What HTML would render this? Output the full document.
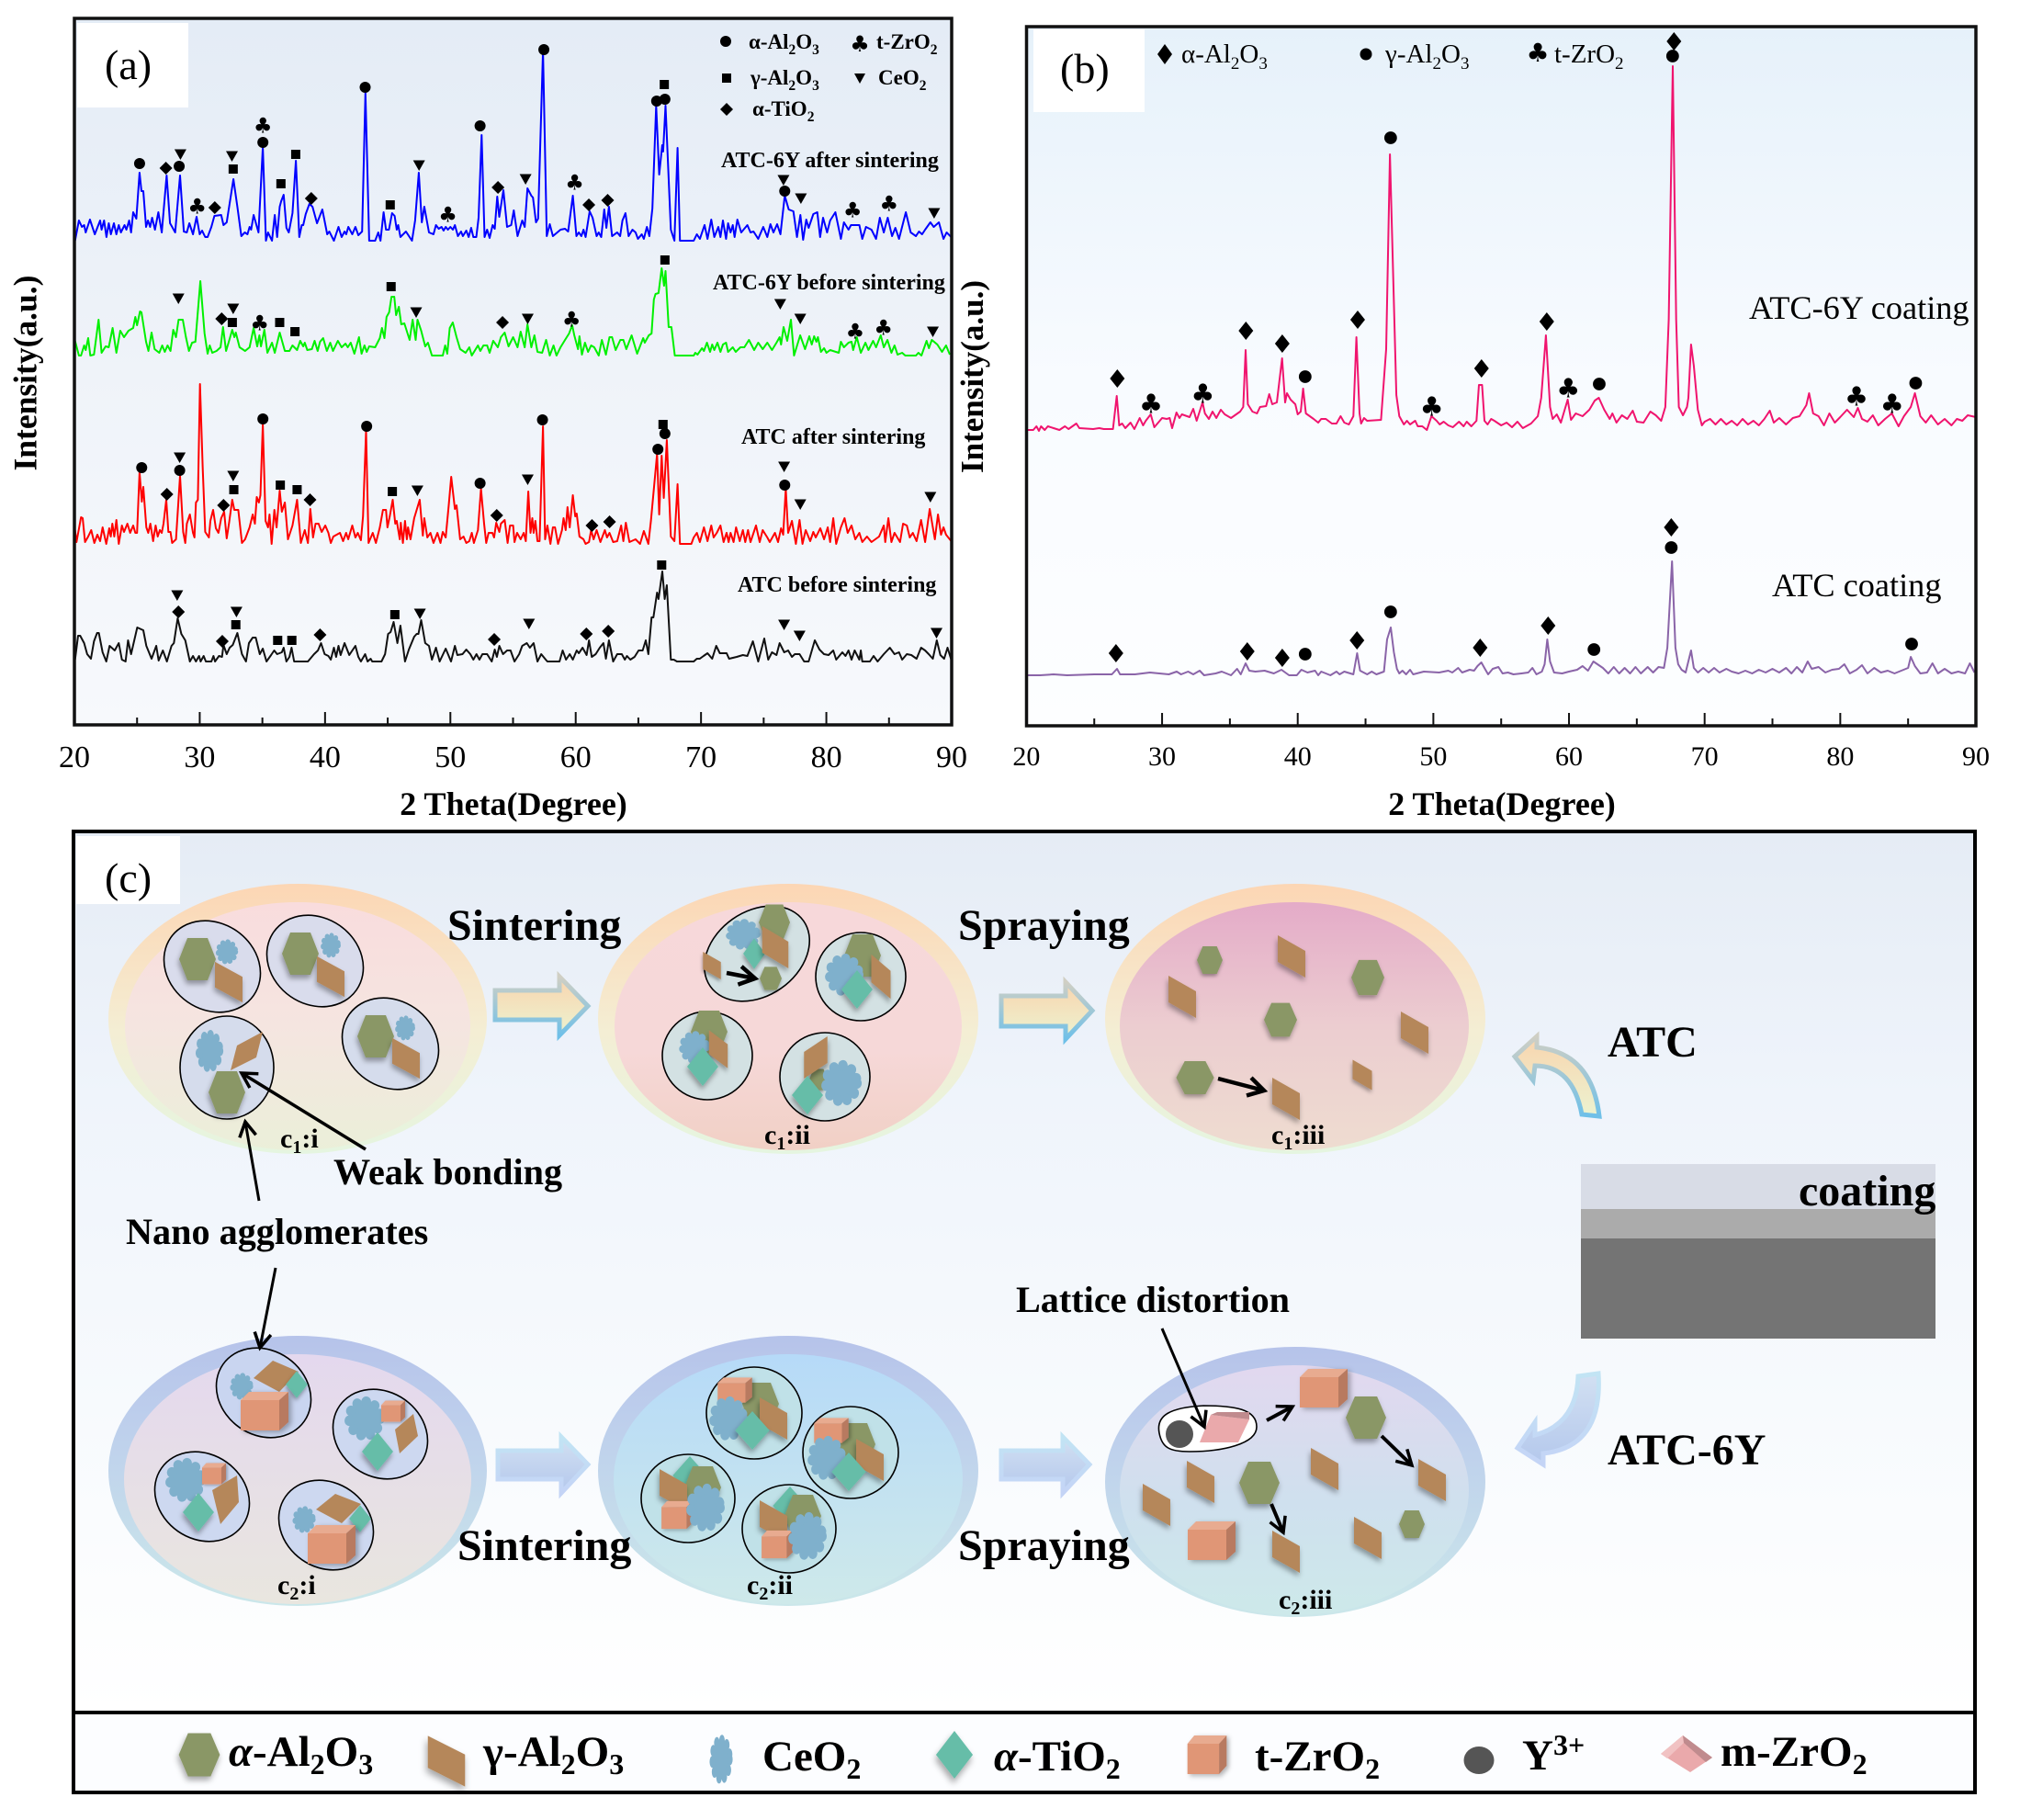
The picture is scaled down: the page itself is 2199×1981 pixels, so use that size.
<!DOCTYPE html>
<html lang="en">
<head>
<meta charset="utf-8">
<title>XRD patterns and microstructure schematic</title>
<style>
html,body{margin:0;padding:0;background:#fff;}
svg{display:block;}
text{font-family:"Liberation Serif","DejaVu Serif",serif;fill:#000;}
.b{font-weight:bold;}
.lab{font-weight:bold;font-size:30px;}
.big{font-weight:bold;font-size:48px;}
.mid{font-weight:bold;font-size:40.2px;}
.leg{font-weight:bold;font-size:47px;}
.lega{font-weight:bold;font-size:23px;}
.slab{font-weight:bold;font-size:24px;}
.legb{font-size:29px;}
.clab{font-size:36.3px;}
.pl{font-size:46px;}
</style>
</head>
<body>
<svg id="figure" xmlns="http://www.w3.org/2000/svg" width="2199" height="1981" viewBox="0 0 2199 1981">
<defs>
<linearGradient id="bgA" x1="0" y1="0" x2="0" y2="1"><stop offset="0" stop-color="#e4ecf6"/><stop offset=".5" stop-color="#eff3f9"/><stop offset="1" stop-color="#f7f9fc"/></linearGradient>
<linearGradient id="bgB" x1="0" y1="0" x2="0" y2="1"><stop offset="0" stop-color="#e6f1fa"/><stop offset=".5" stop-color="#f8fbff"/><stop offset="1" stop-color="#fdfeff"/></linearGradient>
<linearGradient id="bgC" x1="0" y1="0" x2="0" y2="1"><stop offset="0" stop-color="#e5ecf5"/><stop offset=".3" stop-color="#eff4fb"/><stop offset=".65" stop-color="#f7fafd"/><stop offset="1" stop-color="#ffffff"/></linearGradient>
<linearGradient id="o1" x1="0" y1="0" x2="0" y2="1"><stop offset="0" stop-color="#fcd6b4"/><stop offset=".55" stop-color="#f4eed4"/><stop offset="1" stop-color="#e5f5e0"/></linearGradient>
<linearGradient id="o2" x1="0" y1="0" x2="0" y2="1"><stop offset="0" stop-color="#b6c3ea"/><stop offset=".35" stop-color="#bed0ec"/><stop offset="1" stop-color="#cbe7ea"/></linearGradient>
<linearGradient id="i11" x1="0" y1="0" x2="0" y2="1"><stop offset="0" stop-color="#f9dcdd"/><stop offset=".5" stop-color="#f5e5e0"/><stop offset="1" stop-color="#ebefd9"/></linearGradient>
<linearGradient id="i12" x1="0" y1="0" x2="0" y2="1"><stop offset="0" stop-color="#f7d8da"/><stop offset=".6" stop-color="#f6d8d8"/><stop offset="1" stop-color="#f1d0c5"/></linearGradient>
<linearGradient id="i13" x1="0" y1="0" x2="0" y2="1"><stop offset="0" stop-color="#e4abc8"/><stop offset=".5" stop-color="#eccdd0"/><stop offset="1" stop-color="#eedcd0"/></linearGradient>
<linearGradient id="i21" x1="0" y1="0" x2="0" y2="1"><stop offset="0" stop-color="#e4d8ee"/><stop offset="1" stop-color="#e9e6df"/></linearGradient>
<linearGradient id="i22" x1="0" y1="0" x2="0" y2="1"><stop offset="0" stop-color="#b6daf8"/><stop offset="1" stop-color="#cee9ea"/></linearGradient>
<linearGradient id="i23" x1="0" y1="0" x2="0" y2="1"><stop offset="0" stop-color="#e2d8ef"/><stop offset=".55" stop-color="#cfe0ee"/><stop offset="1" stop-color="#cde9ea"/></linearGradient>
<linearGradient id="aF" x1="0" y1="0" x2="0" y2="1"><stop offset="0" stop-color="#f9d4ae"/><stop offset="1" stop-color="#ecf3d0"/></linearGradient>
<linearGradient id="aS" x1="0" y1="0" x2="0" y2="1"><stop offset="0" stop-color="#d0cfc4"/><stop offset="1" stop-color="#6fc0e8"/></linearGradient>
<linearGradient id="bF" x1="0" y1="0" x2="0" y2="1"><stop offset="0" stop-color="#d2e0f2"/><stop offset="1" stop-color="#b4c8ec"/></linearGradient>
<linearGradient id="bS" x1="0" y1="0" x2="0" y2="1"><stop offset="0" stop-color="#c2e4f4"/><stop offset="1" stop-color="#c4d4f6"/></linearGradient>
<filter id="sh" x="-40%" y="-40%" width="180%" height="180%"><feDropShadow dx="-1" dy="4" stdDeviation="3" flood-color="#000" flood-opacity=".35"/></filter>
<filter id="sh2" x="-40%" y="-40%" width="180%" height="180%"><feDropShadow dx="3" dy="2" stdDeviation="3" flood-color="#000" flood-opacity=".3"/></filter>
<g id="hex" filter="url(#sh)"><polygon points="-20,0 -11,-23 11,-23 20,0 11,23 -11,23" fill="#8a9766"/></g>
<g id="para" filter="url(#sh)"><polygon points="-15,-23 15,-6 15,23 -15,6" fill="#b5875a"/></g>
<g id="ti" filter="url(#sh)"><polygon points="0,-21 17,0 0,21 -17,0" fill="#66bda8"/></g>
<g id="ceo"><circle r="16" fill="#7fb0cc" stroke="#7fb0cc" stroke-width="10" stroke-linecap="round" stroke-dasharray="0.1 9.5"/></g>
<g id="cube" filter="url(#sh2)"><rect x="-26" y="-12" width="42" height="33" fill="#e09676"/><polygon points="-26,-12 -17,-21 26,-21 16,-12" fill="#e8ab90"/><polygon points="16,-12 26,-21 26,12 16,21" fill="#b87a60"/></g>
<marker id="ah" markerUnits="userSpaceOnUse" markerWidth="26" markerHeight="26" refX="21" refY="13" orient="auto"><path d="M5,4 L21,13 L5,22" fill="none" stroke="#000" stroke-width="3.5"/></marker>
<marker id="ahb" markerUnits="userSpaceOnUse" markerWidth="26" markerHeight="26" refX="21" refY="13" orient="auto"><path d="M4,3 L21,13 L4,23" fill="none" stroke="#000" stroke-width="4.5"/></marker>
</defs>

<rect width="2199" height="1981" fill="#fff"/>

<!-- PANEL A -->
<g id="panelA">
<rect x="81" y="20" width="955" height="769" fill="url(#bgA)"/>
<rect x="84" y="25" width="121" height="92" fill="#fff"/>
<text class="pl" x="114" y="86">(a)</text>
<g id="gA"></g>
<rect x="81" y="20" width="955" height="769" fill="none" stroke="#111" stroke-width="3.5"/>
<g>
<circle cx="790" cy="45" r="6"/>
<text class="lega" x="815" y="53">α-Al<tspan font-size="15.5" dy="6">2</tspan><tspan dy="-6">O</tspan><tspan font-size="15.5" dy="6">3</tspan></text>
<text x="936" y="56" font-size="24" text-anchor="middle" style="font-family:'DejaVu Sans',sans-serif">♣</text>
<text class="lega" x="954" y="53">t-ZrO<tspan font-size="15.5" dy="6">2</tspan></text>
<rect x="786" y="80" width="10" height="10"/>
<text class="lega" x="817" y="92">γ-Al<tspan font-size="15.5" dy="6">2</tspan><tspan dy="-6">O</tspan><tspan font-size="15.5" dy="6">3</tspan></text>
<polygon points="930,80 942,80 936,91"/>
<text class="lega" x="956" y="92">CeO<tspan font-size="15.5" dy="6">2</tspan></text>
<polygon points="791,112 798,119 791,126 784,119"/>
<text class="lega" x="819" y="126">α-TiO<tspan font-size="15.5" dy="6">2</tspan></text>
</g>
<text class="slab" x="785" y="182">ATC-6Y after sintering</text>
<text class="slab" x="776" y="315">ATC-6Y before sintering</text>
<text class="slab" x="807" y="483">ATC after sintering</text>
<text class="slab" x="803" y="644">ATC before sintering</text>
<text class="b" font-size="36" x="559" y="887" text-anchor="middle">2 Theta(Degree)</text>
<text class="b" font-size="35.5" text-anchor="middle" transform="translate(39.5,406) rotate(-90)">Intensity(a.u.)</text>
</g>

<!-- PANEL B -->
<g id="panelB">
<rect x="1117" y="29" width="1034" height="761" fill="url(#bgB)"/>
<rect x="1125" y="32" width="121" height="90" fill="#fff"/>
<text class="pl" x="1154" y="90">(b)</text>
<g id="gB"></g>
<rect x="1117.5" y="29" width="1033.5" height="761" fill="none" stroke="#111" stroke-width="3.5"/>
<g>
<polygon points="1268,48 1276,59 1268,70 1260,59"/>
<text class="legb" x="1286" y="68">α-Al<tspan font-size="19" dy="7">2</tspan><tspan dy="-7">O</tspan><tspan font-size="19" dy="7">3</tspan></text>
<circle cx="1487" cy="59" r="6.5"/>
<text class="legb" x="1508" y="68">γ-Al<tspan font-size="19" dy="7">2</tspan><tspan dy="-7">O</tspan><tspan font-size="19" dy="7">3</tspan></text>
<text x="1674" y="67" font-size="28" text-anchor="middle" style="font-family:'DejaVu Sans',sans-serif">♣</text>
<text class="legb" x="1692" y="68">t-ZrO<tspan font-size="19" dy="7">2</tspan></text>
</g>
<text class="clab" x="1904" y="347">ATC-6Y coating</text>
<text class="clab" x="1929" y="649">ATC coating</text>
<text class="b" font-size="36" x="1643" y="887" text-anchor="middle" transform="translate(-8,0)">2 Theta(Degree)</text>
<text class="b" font-size="35" text-anchor="middle" transform="translate(1070,410) rotate(-90)">Intensity(a.u.)</text>
</g>

<!-- PANEL C -->
<g id="panelC">
<rect x="80" y="905" width="2070" height="959" fill="url(#bgC)"/>
<rect x="80" y="1864" width="2070" height="87" fill="#fcfdff"/>
<rect x="83" y="910" width="113" height="74" fill="#fff"/>
<text class="pl" x="114" y="971">(c)</text>

<!-- c1:i -->
<g>
<ellipse cx="324" cy="1109" rx="206" ry="147" fill="url(#o1)"/>
<ellipse cx="324" cy="1117" rx="188" ry="135" fill="url(#i11)"/>
<g>
<ellipse cx="231" cy="1052" rx="55" ry="47" transform="rotate(35 231 1052)" fill="#d9dcec" stroke="#000" stroke-width="1.6"/>
<use href="#hex" transform="translate(215,1044)"/><use href="#para" transform="translate(249,1069) scale(1,.96)"/><use href="#ceo" transform="translate(247,1036) scale(.58,.65)"/></g>
<g>
<ellipse cx="343" cy="1046" rx="55" ry="47" transform="rotate(35 343 1046)" fill="#d9dcec" stroke="#000" stroke-width="1.6"/>
<use href="#hex" transform="translate(327,1038)"/><use href="#para" transform="translate(360,1063) scale(1,.96)"/><use href="#ceo" transform="translate(360,1029) scale(.52,.65)"/></g>
<g>
<ellipse cx="425" cy="1136" rx="55" ry="47" transform="rotate(35 425 1136)" fill="#d5dcec" stroke="#000" stroke-width="1.6"/>
<use href="#hex" transform="translate(409,1128)"/><use href="#para" transform="translate(442,1152) scale(1,.96)"/><use href="#ceo" transform="translate(441,1119) scale(.52,.65)"/></g>
<g>
<ellipse cx="247" cy="1162" rx="51" ry="56" fill="#d5dcec" stroke="#000" stroke-width="1.6"/>
<use href="#ceo" transform="translate(228,1144) scale(.72,1.1)"/><polygon points="251,1165 258,1138 286,1123 279,1151" fill="#b5875a"/><use href="#hex" transform="translate(247,1189)"/></g>
<text class="lab" x="305" y="1249">c<tspan font-size="20" dy="6">1</tspan><tspan dy="-6">:i</tspan></text>
</g>

<!-- c1:ii -->
<g>
<ellipse cx="858" cy="1109" rx="207" ry="147" fill="url(#o1)"/>
<ellipse cx="858" cy="1117" rx="189" ry="135" fill="url(#i12)"/>
<g>
<ellipse cx="824" cy="1038" rx="62" ry="46" transform="rotate(-35 824 1038)" fill="#d3e1e3" stroke="#000" stroke-width="1.6"/>
<use href="#hex" transform="translate(843,1004) scale(.85,.85)"/><use href="#ceo" transform="translate(809,1017) scale(.9,.8)"/><use href="#ti" transform="translate(821,1038) scale(.7,.8)"/><use href="#para" transform="translate(844,1031) scale(.95,1)"/><use href="#para" transform="translate(775,1051) scale(.65,.65)"/><use href="#hex" transform="translate(839,1065) scale(.6,.55)"/>
<line x1="791" y1="1059" x2="822" y2="1065" stroke="#000" stroke-width="4.5" marker-end="url(#ahb)"/></g>
<g>
<ellipse cx="937" cy="1063" rx="49" ry="48" fill="#d3e1e3" stroke="#000" stroke-width="1.6"/>
<use href="#hex" transform="translate(939,1040)"/><use href="#ceo" transform="translate(919,1061) scale(1,1.1)"/><use href="#para" transform="translate(959,1063) scale(.7,1.05)"/><use href="#ti" transform="translate(933,1077)"/></g>
<g>
<ellipse cx="770" cy="1149" rx="49" ry="48" fill="#d3e1e3" stroke="#000" stroke-width="1.6"/>
<use href="#hex" transform="translate(772,1123)"/><use href="#ceo" transform="translate(756,1140) scale(.8,.85)"/><use href="#para" transform="translate(782,1142) scale(.68,.9)"/><use href="#ti" transform="translate(765,1161)"/></g>
<g>
<ellipse cx="898" cy="1172" rx="49" ry="48" fill="#d3e1e3" stroke="#000" stroke-width="1.6"/>
<use href="#hex" transform="translate(891,1175) scale(.5,.5)"/><use href="#para" transform="translate(888,1151) scale(-.85,1)"/><use href="#ceo" transform="translate(916,1179) scale(1.05,1.2)"/><use href="#ti" transform="translate(879,1192)"/></g>
<text class="lab" x="832" y="1245">c<tspan font-size="20" dy="6">1</tspan><tspan dy="-6">:ii</tspan></text>
</g>

<!-- c1:iii -->
<g>
<ellipse cx="1410" cy="1109" rx="207" ry="147" fill="url(#o1)"/>
<ellipse cx="1409" cy="1117" rx="190" ry="135" fill="url(#i13)"/>
<use href="#hex" transform="translate(1317,1045) scale(.7,.65)"/>
<use href="#para" transform="translate(1406,1041)"/>
<use href="#hex" transform="translate(1489,1064) scale(.9,.83)"/>
<use href="#para" transform="translate(1287,1085)"/>
<use href="#hex" transform="translate(1394,1110) scale(.9,.8)"/>
<use href="#para" transform="translate(1540,1124)"/>
<use href="#hex" transform="translate(1301,1173) scale(1.03,.78)"/>
<line x1="1326" y1="1174" x2="1376" y2="1187" stroke="#000" stroke-width="4.5" marker-end="url(#ahb)"/>
<use href="#para" transform="translate(1400,1196)"/>
<use href="#para" transform="translate(1483,1170) scale(.7,.72)"/>
<text class="lab" x="1384" y="1245">c<tspan font-size="20" dy="6">1</tspan><tspan dy="-6">:iii</tspan></text>
</g>

<!-- c2:i -->
<g>
<ellipse cx="324" cy="1601" rx="206" ry="147" fill="url(#o2)"/>
<ellipse cx="324" cy="1610" rx="189" ry="136" fill="url(#i21)"/>
<g>
<ellipse cx="287" cy="1516" rx="54" ry="46" transform="rotate(35 287 1516)" fill="#c9d5f0" stroke="#000" stroke-width="1.6"/>
<use href="#ceo" transform="translate(263,1509) scale(.6,.7)"/><polygon points="276,1500 297,1481 325,1493 304,1515" fill="#b5875a"/><use href="#ti" transform="translate(323,1507) scale(.7,.7)"/><use href="#cube" transform="translate(288,1536)"/></g>
<g>
<ellipse cx="414" cy="1561" rx="54" ry="46" transform="rotate(35 414 1561)" fill="#cdd8f0" stroke="#000" stroke-width="1.6"/>
<use href="#ceo" transform="translate(397,1544) scale(1.05,1.15)"/><use href="#cube" transform="translate(428,1536) scale(.5,.55)"/><polygon points="435,1582 430,1556 450,1539 455,1563" fill="#b5875a"/><use href="#ti" transform="translate(411,1580)"/></g>
<g>
<ellipse cx="220" cy="1629" rx="54" ry="46" transform="rotate(35 220 1629)" fill="#cdd8f0" stroke="#000" stroke-width="1.6"/>
<use href="#ceo" transform="translate(202,1611) scale(1.05,1.15)"/><use href="#cube" transform="translate(233,1604) scale(.5,.55)"/><polygon points="240,1659 231,1622 258,1606 260,1635" fill="#b5875a"/><use href="#ti" transform="translate(216,1646)"/></g>
<g>
<ellipse cx="355" cy="1660" rx="54" ry="46" transform="rotate(35 355 1660)" fill="#cdd8f0" stroke="#000" stroke-width="1.6"/>
<use href="#ceo" transform="translate(331,1654) scale(.6,.7)"/><polygon points="344,1643 365,1626 393,1637 372,1658" fill="#b5875a"/><use href="#ti" transform="translate(392,1653) scale(.7,.7)"/><use href="#cube" transform="translate(361,1681)"/></g>
<text class="lab" x="302" y="1735">c<tspan font-size="20" dy="6">2</tspan><tspan dy="-6">:i</tspan></text>
</g>

<!-- c2:ii -->
<g>
<ellipse cx="858" cy="1601" rx="207" ry="147" fill="url(#o2)"/>
<ellipse cx="858" cy="1610" rx="190" ry="136" fill="url(#i22)"/>
<g>
<ellipse cx="821" cy="1538" rx="52" ry="50" fill="#c0e1e8" stroke="#000" stroke-width="1.6"/>
<use href="#hex" transform="translate(828,1528)"/><use href="#cube" transform="translate(800,1513) scale(.72,.65)"/><use href="#ceo" transform="translate(793,1544) scale(1,1.15)"/><use href="#para" transform="translate(842,1544)"/><use href="#ti" transform="translate(819,1557) scale(1.1,1)"/></g>
<g>
<ellipse cx="926" cy="1581" rx="52" ry="50" fill="#c0e1e8" stroke="#000" stroke-width="1.6"/>
<use href="#hex" transform="translate(933,1572)"/><use href="#cube" transform="translate(905,1557) scale(.72,.65)"/><use href="#ceo" transform="translate(900,1587) scale(1,1.15)"/><use href="#para" transform="translate(947,1589)"/><use href="#ti" transform="translate(924,1602) scale(1.1,1)"/></g>
<g>
<ellipse cx="749" cy="1631" rx="51" ry="48" fill="#c0e1e8" stroke="#000" stroke-width="1.6"/>
<use href="#ti" transform="translate(751,1606) scale(1.1,1)"/><use href="#hex" transform="translate(765,1619)"/><use href="#para" transform="translate(733,1622)"/><use href="#cube" transform="translate(737,1649) scale(.65,.72)"/><use href="#ceo" transform="translate(768,1641) scale(1,1.25)"/></g>
<g>
<ellipse cx="859" cy="1664" rx="51" ry="48" fill="#c0e1e8" stroke="#000" stroke-width="1.6"/>
<use href="#ti" transform="translate(860,1639) scale(1.1,1)"/><use href="#hex" transform="translate(874,1650)"/><use href="#para" transform="translate(842,1656)"/><use href="#cube" transform="translate(846,1681) scale(.65,.72)"/><use href="#ceo" transform="translate(879,1672) scale(1,1.25)"/></g>
<text class="lab" x="813" y="1735">c<tspan font-size="20" dy="6">2</tspan><tspan dy="-6">:ii</tspan></text>
</g>

<!-- c2:iii -->
<g>
<ellipse cx="1410" cy="1613" rx="207" ry="147" fill="url(#o2)"/>
<ellipse cx="1409" cy="1622" rx="190" ry="136" fill="url(#i23)"/>
<path d="M1262,1560 C1258,1540 1275,1532 1310,1530 C1345,1530 1368,1534 1368,1553 C1368,1572 1330,1580 1295,1580 C1272,1580 1265,1575 1262,1560 Z" fill="#fff" stroke="#000" stroke-width="1.6"/>
<ellipse cx="1284" cy="1561" rx="15" ry="15" fill="#555"/>
<g><polygon points="1306,1570 1318,1540 1360,1545 1348,1570" fill="#eaa9ab"/><polygon points="1318,1540 1325,1537 1360,1537 1360,1545" fill="#c08b8e"/></g>
<line x1="1265" y1="1446" x2="1311" y2="1553" stroke="#000" stroke-width="3" marker-end="url(#ah)"/>
<line x1="1379" y1="1546" x2="1407" y2="1531" stroke="#000" stroke-width="4" marker-end="url(#ah)"/>
<use href="#cube" transform="translate(1441,1511)"/>
<use href="#hex" transform="translate(1487,1543) scale(1.1,1)"/>
<line x1="1504" y1="1563" x2="1537" y2="1595" stroke="#000" stroke-width="4" marker-end="url(#ah)"/>
<use href="#para" transform="translate(1559,1611)"/>
<use href="#para" transform="translate(1442,1599)"/>
<use href="#para" transform="translate(1307,1613)"/>
<use href="#hex" transform="translate(1371,1614) scale(1.1,1)"/>
<use href="#para" transform="translate(1259,1638)"/>
<line x1="1384" y1="1637" x2="1397" y2="1668" stroke="#000" stroke-width="4" marker-end="url(#ah)"/>
<use href="#hex" transform="translate(1537,1659) scale(.7,.65)"/>
<use href="#para" transform="translate(1489,1674)"/>
<use href="#cube" transform="translate(1319,1677)"/>
<use href="#para" transform="translate(1400,1689)"/>
<text class="lab" x="1392" y="1751">c<tspan font-size="20" dy="6">2</tspan><tspan dy="-6">:iii</tspan></text>
</g>

<!-- process arrows -->
<path d="M539,1078 H609 V1063 L640,1095 L609,1127 V1110 H539 Z" fill="url(#aF)" stroke="url(#aS)" stroke-width="5"/>
<path d="M1090,1084 H1160 V1069 L1189,1100 L1160,1131 V1117 H1090 Z" fill="url(#aF)" stroke="url(#aS)" stroke-width="5"/>
<path d="M542,1579 H611 V1564 L640,1594 L611,1625 V1610 H542 Z" fill="url(#bF)" stroke="url(#bS)" stroke-width="5"/>
<path d="M1090,1579 H1157 V1564 L1186,1594 L1157,1625 V1610 H1090 Z" fill="url(#bF)" stroke="url(#bS)" stroke-width="5"/>
<path d="M1649,1150 L1673,1128 L1673,1140 Q1733,1146 1741,1215 L1722,1213 Q1712,1160 1671,1160 L1669,1176 Z" fill="url(#aF)" stroke="url(#aS)" stroke-width="5"/>
<path d="M1652,1576 L1671,1548 L1671,1562 Q1716,1550 1718,1498 L1740,1495 Q1745,1575 1680,1582 L1680,1594 Z" fill="url(#bF)" stroke="url(#bS)" stroke-width="5"/>

<!-- annotation arrows -->
<line x1="398" y1="1251" x2="263" y2="1168" stroke="#000" stroke-width="3.5" marker-end="url(#ah)"/>
<line x1="282" y1="1307" x2="267" y2="1221" stroke="#000" stroke-width="3" marker-end="url(#ah)"/>
<line x1="300" y1="1380" x2="283" y2="1467" stroke="#000" stroke-width="3" marker-end="url(#ah)"/>

<!-- coating block -->
<rect x="1721" y="1267" width="386" height="49" fill="#d8dce6"/>
<rect x="1721" y="1316" width="386" height="32" fill="#ababab"/>
<rect x="1721" y="1348" width="386" height="109" fill="#747474"/>

<text class="big" x="487" y="1023">Sintering</text>
<text class="big" x="1043" y="1023">Spraying</text>
<text class="big" x="498" y="1698">Sintering</text>
<text class="big" x="1043" y="1698">Spraying</text>
<text class="mid" x="363" y="1289">Weak bonding</text>
<text class="mid" x="137" y="1354">Nano agglomerates</text>
<text class="mid" x="1106" y="1428">Lattice distortion</text>
<text class="big" x="1750" y="1150">ATC</text>
<text class="big" x="1750" y="1594">ATC-6Y</text>
<text class="big" x="1958" y="1312">coating</text>

<rect x="80" y="905" width="2070" height="1046" fill="none" stroke="#000" stroke-width="4"/>
<line x1="80" y1="1864" x2="2150" y2="1864" stroke="#000" stroke-width="4"/>

<!-- bottom legend -->
<g>
<use href="#hex" transform="translate(217,1910) scale(1.12,1.02)"/>
<text class="leg" x="249" y="1922"><tspan font-style="italic">α</tspan>-Al<tspan font-size="32" dy="9">2</tspan><tspan dy="-9">O</tspan><tspan font-size="32" dy="9">3</tspan></text>
<use href="#para" transform="translate(486,1917) scale(1.35,1.2)"/>
<text class="leg" x="526" y="1922">γ-Al<tspan font-size="32" dy="9">2</tspan><tspan dy="-9">O</tspan><tspan font-size="32" dy="9">3</tspan></text>
<use href="#ceo" transform="translate(785,1915) scale(.6,1.28)"/>
<text class="leg" x="830" y="1927">CeO<tspan font-size="32" dy="9">2</tspan></text>
<use href="#ti" transform="translate(1039,1910) scale(1.18,1.24)"/>
<text class="leg" x="1082" y="1927"><tspan font-style="italic">α</tspan>-TiO<tspan font-size="32" dy="9">2</tspan></text>
<use href="#cube" transform="translate(1314,1910) scale(.82,1)"/>
<text class="leg" x="1366" y="1927">t-ZrO<tspan font-size="32" dy="9">2</tspan></text>
<ellipse cx="1610" cy="1916" rx="16.5" ry="15" fill="#555"/>
<text class="leg" x="1657" y="1926">Y<tspan font-size="32" dy="-16">3+</tspan></text>
<g><polygon points="1808,1909 1832,1889 1864,1913 1840,1929" fill="#eaa9ab"/><polygon points="1808,1909 1832,1889 1833,1897 1815,1914" fill="#f1c2c3"/><polygon points="1832,1889 1864,1913 1857,1918 1833,1897" fill="#c08b8e"/></g>
<text class="leg" x="1873" y="1922">m-ZrO<tspan font-size="32" dy="9">2</tspan></text>
</g>
</g>

<script>
/* ===== values: [2-theta, intensity above the pattern's baseline] ===== */
const xTickLabels = [20,30,40,50,60,70,80,90];
const xMinorTicks = [25,35,45,55,65,75,85];

const atc6yAfter = [[20.05,0],[20.36,22],[20.6,15],[20.78,17],[20.9,9],[21.24,23],[21.63,7],[22.05,22],[22.17,12],[22.37,22],[22.56,4],[22.74,19],[22.91,7],[23.15,19],[23.35,7],[23.54,17],[23.71,9],[24,17],[24.15,12],[24.37,22],[24.52,9],[24.69,31],[24.94,24],[25.2,74],[25.35,54],[25.5,54],[25.72,15],[25.87,22],[26.04,15],[26.2,25],[26.43,12],[26.7,31],[26.97,9],[27.36,71],[27.63,19],[27.8,15],[28.04,9],[28.43,71],[28.73,10],[28.97,9],[29.17,19],[29.46,7],[29.75,26],[30,7],[30.19,11],[30.44,4],[30.63,4],[30.93,15],[31.17,27],[31.71,28],[31.9,17],[32.15,20],[32.69,67],[33,37],[33.32,5],[33.6,9],[33.81,7],[33.98,15],[34.1,12],[34.3,28],[34.69,9],[35.03,102],[35.28,0],[35.45,9],[35.77,0],[35.99,28],[36.18,4],[36.38,37],[36.5,43],[36.7,50],[36.92,14],[37.11,9],[37.4,30],[37.67,87],[37.94,4],[38.14,17],[38.26,17],[38.46,29],[38.75,40],[39,37],[39.36,19],[39.78,34],[40.17,7],[40.34,10],[40.71,0],[41.07,15],[41.32,4],[41.56,10],[41.69,7],[41.86,15],[42.17,7],[42.42,15],[42.66,6],[42.96,10],[43.22,161],[43.52,0],[44,0],[44.25,9],[44.42,0],[44.67,31],[44.86,12],[45.1,12],[45.35,30],[45.55,27],[45.72,12],[45.84,17],[46.01,4],[46.45,10],[46.94,0],[47.19,22],[47.48,74],[47.72,20],[47.92,37],[48.29,9],[48.65,7],[48.85,17],[49.07,13],[49.3,15],[49.46,11],[49.63,15],[49.8,12],[50,15],[50.2,12],[50.36,17],[50.6,5],[50.85,10],[51,5],[51.27,11],[51.46,4],[51.66,14],[51.83,4],[52.07,4],[52.25,25],[52.49,115],[52.73,4],[52.93,12],[53.13,3],[53.37,17],[53.54,13],[53.74,48],[53.9,26],[54.23,55],[54.52,15],[54.85,17],[55.06,33],[55.36,5],[55.73,22],[55.93,15],[56.15,57],[56.46,49],[56.59,47],[56.83,20],[57,24],[57.39,207],[57.69,5],[57.93,18],[58.18,5],[58.79,12],[59.15,13],[59.4,10],[59.77,49],[60.06,5],[60.25,9],[60.45,5],[60.62,12],[60.79,4],[61.11,32],[61.35,25],[61.67,5],[61.84,9],[62.04,4],[62.28,34],[62.45,14],[62.65,37],[62.9,5],[63.31,9],[63.55,5],[63.73,22],[63.97,30],[64.22,5],[64.53,12],[64.78,9],[64.97,2],[65.27,7],[65.44,2],[65.68,15],[65.88,5],[66.12,35],[66.42,147],[66.66,72],[66.9,104],[66.98,97],[67.17,147],[67.59,12],[67.88,0],[68.13,101],[68.32,0],[69.42,0],[69.67,7],[69.91,2],[70.28,17],[70.52,2],[70.82,23],[71.06,4],[71.38,15],[71.55,4],[71.75,22],[72,2],[72.16,19],[72.36,9],[72.53,17],[72.68,4],[72.9,23],[73.21,9],[73.7,17],[73.95,9],[74.19,10],[74.56,2],[74.97,15],[75.29,4],[75.54,18],[75.78,9],[76.07,18],[76.34,7],[76.68,49],[77,34],[77.37,32],[77.66,4],[77.93,28],[78.15,1],[78.4,23],[78.59,14],[78.96,29],[79.28,31],[79.5,4],[79.74,25],[80.06,9],[80.3,22],[80.72,31],[81.16,2],[81.4,20],[81.77,12],[81.97,17],[82.63,17],[82.87,2],[83.16,15],[83.6,12],[83.97,2],[84.27,25],[84.58,9],[84.9,25],[85.24,5],[85.51,14],[85.8,2],[86.34,31],[86.73,9],[87.15,5],[87.39,10],[87.64,7],[87.88,12],[88.3,20],[88.57,15],[88.98,20],[89.35,2],[89.6,9],[89.96,4]];

const atc6yBefore = [[20.05,16],[20.36,0],[20.53,0],[20.78,11],[20.9,6],[21.1,19],[21.27,0],[21.56,1],[21.93,39],[22.17,3],[22.49,10],[22.74,9],[23.05,30],[23.35,3],[23.66,27],[23.96,20],[24.32,27],[24.69,30],[24.86,42],[25,33],[25.23,48],[25.35,47],[25.72,15],[25.91,5],[26.16,25],[26.4,7],[26.77,3],[27.01,11],[27.21,4],[27.43,11],[27.67,5],[27.89,28],[28.11,20],[28.31,39],[28.65,39],[28.9,20],[29.14,5],[29.39,14],[29.65,15],[30.05,81],[30.39,24],[30.63,2],[30.8,11],[31,3],[31.34,5],[31.66,9],[31.86,31],[32.1,5],[32.32,15],[32.59,28],[32.76,20],[32.88,25],[33.18,9],[33.62,5],[33.98,9],[34.3,30],[34.59,10],[34.76,22],[34.89,10],[35.16,28],[35.4,3],[35.77,14],[35.99,3],[36.38,25],[36.79,5],[37.16,5],[37.4,11],[37.77,6],[38.02,16],[38.26,10],[38.38,14],[38.58,6],[38.95,7],[39.17,16],[39.41,5],[39.6,15],[39.85,19],[40.14,5],[40.41,14],[40.63,5],[41.02,16],[41.32,9],[41.63,13],[41.81,9],[42.05,14],[42.34,2],[42.71,20],[42.91,2],[43.15,11],[43.32,4],[43.52,10],[44,9],[44.37,19],[44.54,30],[44.74,19],[44.91,42],[45.11,47],[45.3,64],[45.52,64],[45.67,44],[45.89,53],[46.08,34],[46.33,35],[46.75,17],[46.99,39],[47.23,17],[47.38,39],[47.67,27],[47.99,10],[48.21,14],[48.53,0],[49.39,0],[49.58,11],[49.75,2],[49.95,30],[50.19,36],[50.49,20],[50.78,7],[51.22,3],[51.51,9],[51.71,0],[52.2,11],[52.39,5],[52.64,11],[52.93,11],[53.13,3],[53.42,16],[53.79,9],[54.03,20],[54.33,25],[54.64,10],[55.01,20],[55.36,9],[55.61,26],[55.93,9],[56.15,34],[56.46,9],[56.71,22],[56.95,4],[57.32,3],[57.64,17],[57.93,0],[58.23,11],[58.47,0],[58.79,9],[59.15,17],[59.47,24],[59.72,33],[59.89,22],[60.18,7],[60.3,21],[60.5,1],[60.74,14],[60.99,4],[61.23,11],[61.48,9],[61.84,0],[62.09,17],[62.41,1],[62.7,20],[62.9,20],[63.19,6],[63.56,17],[63.8,17],[64.04,7],[64.46,22],[64.9,2],[65.39,19],[65.51,14],[65.83,22],[66.05,24],[66.24,61],[66.37,67],[66.61,68],[66.86,95],[67.05,76],[67.17,92],[67.42,31],[67.64,31],[67.91,0],[69.42,0],[69.54,3],[69.72,1],[70.08,8],[70.23,5],[70.47,14],[70.72,4],[70.89,12],[71.06,6],[71.31,14],[71.55,4],[71.75,12],[72,14],[72.16,4],[72.53,9],[72.77,4],[73.14,9],[73.46,9],[73.82,17],[74.24,6],[74.56,14],[74.92,7],[75.29,14],[75.66,6],[76.02,14],[76.27,20],[76.39,12],[76.59,31],[76.88,16],[77.17,39],[77.42,0],[77.91,22],[78.3,7],[78.64,21],[78.84,12],[79.03,21],[79.2,15],[79.33,20],[79.57,4],[79.82,8],[80.01,3],[80.3,6],[80.99,3],[81.16,15],[81.4,9],[81.77,14],[82.01,15],[82.14,6],[82.43,20],[82.75,3],[83.12,14],[83.36,6],[83.73,16],[83.97,9],[84.34,22],[84.58,9],[84.88,17],[85.19,3],[85.44,11],[85.68,1],[86.05,3],[86.3,0],[87.15,0],[87.35,3],[87.59,0],[88,16],[88.18,8],[88.42,17],[88.86,12],[89.23,4],[89.55,11],[89.85,1]];

const atcAfter = [[20.05,15],[20.17,2],[20.53,29],[20.66,28],[20.85,2],[21.1,8],[21.34,15],[21.59,1],[21.83,10],[22.05,3],[22.25,18],[22.54,0],[22.78,17],[22.9,8],[23.03,22],[23.18,8],[23.35,26],[23.54,0],[23.79,20],[23.96,13],[24.23,22],[24.45,12],[24.69,20],[24.86,12],[25,12],[25.2,78],[25.38,46],[25.5,62],[25.74,18],[25.89,12],[26.06,22],[26.28,3],[26.48,20],[26.65,8],[26.82,15],[26.97,12],[27.11,22],[27.33,48],[27.5,13],[27.67,13],[27.8,1],[28.11,5],[28.43,74],[28.68,13],[28.85,1],[28.97,22],[29.21,32],[29.46,12],[29.58,7],[29.7,45],[29.85,48],[30.02,174],[30.24,82],[30.44,13],[30.73,7],[30.85,25],[31.07,37],[31.29,17],[31.49,12],[31.71,28],[31.95,35],[32.15,6],[32.34,23],[32.59,48],[32.76,37],[33.08,37],[33.37,1],[33.62,5],[33.98,18],[34.23,32],[34.4,22],[34.55,51],[34.72,45],[34.84,53],[35.03,130],[35.25,25],[35.45,18],[35.57,32],[35.74,0],[35.96,37],[36.13,18],[36.38,58],[36.55,35],[36.79,45],[37.04,5],[37.4,20],[37.77,48],[38.07,1],[38.38,15],[38.63,1],[38.82,38],[39.04,7],[39.24,22],[39.48,22],[39.73,13],[40.02,20],[40.27,12],[40.46,1],[40.66,8],[41.19,12],[41.44,3],[41.68,12],[41.85,5],[42.17,20],[42.42,7],[42.61,12],[42.86,4],[43.03,30],[43.27,123],[43.47,1],[43.81,12],[44.06,1],[44.37,18],[44.62,37],[44.86,37],[44.98,18],[45.16,30],[45.4,48],[45.6,22],[45.72,25],[45.96,5],[46.04,23],[46.21,1],[46.38,25],[46.53,5],[46.62,18],[46.82,5],[47.11,28],[47.31,37],[47.55,48],[47.8,9],[47.92,28],[48.16,7],[48.41,12],[48.65,1],[48.97,12],[49.21,1],[49.39,13],[49.63,7],[49.87,42],[50.07,73],[50.36,38],[50.49,42],[50.78,5],[51.05,8],[51.27,1],[51.51,3],[51.71,12],[51.88,1],[52.2,15],[52.44,60],[52.69,22],[52.86,1],[53.05,12],[53.35,12],[53.49,7],[53.66,23],[53.91,13],[54.03,22],[54.33,26],[54.57,1],[54.76,20],[55.01,20],[55.12,2],[55.32,12],[55.61,5],[55.85,12],[56.02,3],[56.22,57],[56.39,12],[56.54,28],[56.64,12],[56.78,25],[56.95,3],[57.12,3],[57.39,128],[57.56,5],[57.74,20],[57.98,0],[58.18,18],[58.35,18],[58.59,0],[58.91,15],[59.03,28],[59.2,15],[59.35,40],[59.52,18],[59.77,53],[59.96,30],[60.08,33],[60.3,8],[60.62,5],[60.79,0],[61.06,2],[61.23,15],[61.43,5],[61.67,15],[61.97,2],[62.33,15],[62.5,7],[62.7,12],[62.99,2],[63.31,3],[63.63,20],[63.8,3],[64,23],[64.29,2],[64.78,5],[65.14,0],[65.44,14],[65.8,0],[66,25],[66.17,50],[66.49,98],[66.66,32],[66.86,96],[67.03,50],[67.27,113],[67.59,8],[67.88,3],[68.13,65],[68.32,0],[69.23,0],[69.42,7],[69.67,12],[69.91,2],[70.23,18],[70.52,3],[70.82,20],[71.01,7],[71.26,12],[71.55,20],[71.8,2],[72.04,12],[72.2,2],[72.36,12],[72.6,2],[72.8,18],[73.09,3],[73.34,15],[73.53,2],[73.75,15],[73.95,2],[74.39,20],[74.68,2],[74.92,15],[75.29,7],[75.49,2],[75.9,12],[76.15,2],[76.39,17],[76.56,10],[76.76,60],[76.95,12],[77.25,25],[77.57,0],[77.86,26],[78.1,0],[78.35,15],[78.71,3],[78.96,13],[79.15,7],[79.52,17],[79.82,5],[80.11,18],[80.3,2],[80.55,28],[80.79,0],[81.16,18],[81.45,28],[81.7,12],[82.01,20],[82.31,5],[82.63,12],[82.87,2],[83.24,8],[83.6,2],[84.21,8],[84.58,20],[84.7,2],[84.95,28],[85.19,2],[85.44,12],[85.88,2],[86.12,22],[86.42,20],[86.66,7],[86.9,12],[87.2,3],[87.56,26],[87.88,2],[88.25,38],[88.66,5],[88.91,32],[89.15,10],[89.35,18],[89.55,10],[89.96,3]];

const atcBefore = [[20.05,2],[20.29,28],[20.46,28],[20.78,20],[21.02,8],[21.32,3],[21.56,22],[21.81,31],[21.95,31],[22.25,10],[22.54,0],[22.81,17],[23.22,12],[23.54,20],[23.79,2],[24.08,0],[24.28,23],[24.52,8],[25.01,37],[25.5,34],[25.74,17],[26.16,3],[26.53,17],[26.72,1],[27.06,12],[27.38,0],[27.75,17],[27.94,20],[28.24,47],[28.53,30],[28.85,23],[29.21,0],[29.46,6],[29.7,0],[29.95,6],[30.07,0],[30.31,6],[30.49,0],[30.93,0],[31.1,6],[31.22,0],[31.54,6],[31.78,5],[31.9,18],[32.15,8],[32.39,15],[32.64,18],[33,31],[33.37,8],[33.69,0],[33.93,20],[34.23,26],[34.47,26],[34.79,8],[35.03,14],[35.33,0],[35.69,7],[35.94,12],[36.18,8],[36.55,10],[36.7,15],[36.92,0],[37.16,5],[37.33,15],[37.53,0],[38.63,0],[39.12,8],[39.43,12],[39.68,20],[39.97,8],[40.27,6],[40.46,2],[40.71,15],[40.88,5],[41.07,17],[41.24,7],[41.56,20],[41.93,7],[42.42,17],[42.66,5],[42.86,0],[43.2,8],[43.4,0],[43.64,3],[43.76,0],[44.5,0],[44.79,8],[45.03,30],[45.23,32],[45.47,43],[45.77,20],[46.01,39],[46.38,0],[46.69,13],[47.11,27],[47.31,30],[47.45,30],[47.67,45],[47.99,20],[48.29,17],[48.53,2],[48.85,15],[49.14,0],[49.63,14],[50.05,0],[50.36,17],[50.56,7],[50.97,8],[51.27,13],[51.59,8],[51.83,2],[52.08,8],[52.32,2],[52.56,8],[52.93,8],[53.3,0],[53.54,13],[53.71,5],[53.91,17],[54.2,8],[54.52,12],[54.8,12],[55.12,0],[55.49,8],[55.73,17],[56.1,20],[56.34,15],[56.64,20],[56.95,0],[57.25,8],[57.61,2],[57.74,0],[58.71,0],[58.96,12],[59.23,2],[59.52,8],[59.77,2],[60.08,12],[60.25,9],[60.55,15],[60.87,7],[61.06,23],[61.28,5],[61.6,8],[61.92,15],[62.21,20],[62.41,3],[62.65,23],[62.99,0],[63.31,8],[63.68,8],[63.92,2],[64.09,6],[64.36,2],[64.7,5],[65.02,12],[65.34,12],[65.59,23],[65.8,8],[66.05,48],[66.2,48],[66.49,75],[66.61,68],[66.91,98],[67.1,68],[67.27,83],[67.59,2],[67.83,2],[68.08,0],[69.42,0],[69.67,3],[69.9,3],[70.2,6],[70.52,9],[70.89,3],[71.21,17],[71.5,9],[72.04,9],[72.24,3],[72.85,5],[73.34,7],[73.7,6],[74.14,22],[74.56,0],[75.05,25],[75.36,2],[75.66,10],[76.02,7],[76.27,20],[76.64,10],[76.95,12],[77.25,5],[77.49,8],[77.86,8],[78.23,0],[78.59,0],[79.08,23],[79.45,13],[79.81,8],[80.18,7],[80.55,12],[80.79,2],[81.28,10],[81.53,6],[81.77,12],[82.01,2],[82.26,12],[82.63,2],[82.75,12],[82.87,0],[83.48,0],[83.77,6],[84.09,0],[84.58,8],[85.07,15],[85.44,8],[85.8,10],[86.05,2],[86.42,8],[86.78,7],[87.2,3],[87.56,15],[87.88,12],[88.17,8],[88.5,3],[88.81,23],[89.1,7],[89.4,3],[89.67,15],[89.96,2]];

const atc6yCoating = [[20.06,0],[20.5,0],[20.74,4],[20.92,-1],[21.08,4],[21.35,0],[21.58,4],[22,2],[22.43,0],[22.84,4],[23.1,1],[23.68,7],[23.9,2],[24.92,1],[25.37,2],[25.7,1],[26.38,1],[26.66,37],[26.84,5],[27.06,7],[27.29,2],[27.67,8],[27.96,1],[28.35,13],[28.6,5],[28.8,10],[29.16,17],[29.43,3],[29.66,7],[30,13],[30.34,12],[30.56,13],[30.74,2],[31.06,19],[31.28,13],[31.46,17],[32.03,14],[32.3,23],[32.55,10],[32.98,30],[33.16,18],[33.45,12],[33.72,20],[34,13],[34.33,22],[34.62,17],[35.08,13],[35.75,20],[35.98,25],[36.16,87],[36.32,28],[36.66,20],[37,18],[37.22,25],[37.67,26],[37.9,39],[38.12,28],[38.46,30],[38.85,78],[39.07,30],[39.21,40],[39.48,33],[39.82,28],[40,17],[40.22,20],[40.4,45],[40.6,18],[41.17,12],[41.51,8],[41.73,12],[42.07,12],[42.52,7],[42.86,7],[43.16,15],[43.43,8],[43.77,6],[44.1,15],[44.33,101],[44.56,18],[44.67,7],[44.89,13],[45.12,10],[46.14,11],[46.52,88],[46.8,300],[47.27,38],[47.49,15],[47.83,6],[48.05,10],[48.28,6],[48.66,10],[48.85,4],[49.18,4],[49.52,0],[49.86,15],[50.24,10],[50.47,6],[50.76,9],[51.1,5],[51.44,3],[51.89,9],[52.23,4],[52.46,9],[52.8,4],[53.18,10],[53.36,49],[53.59,49],[53.77,10],[54,6],[54.26,12],[54.5,10],[55,5],[55.4,8],[55.8,3],[56.2,9],[56.6,2],[57.2,7],[57.7,15],[57.95,35],[58.3,103],[58.6,25],[58.8,12],[59.1,17],[59.4,8],[59.9,33],[60.15,11],[60.5,18],[61,15],[61.5,22],[61.9,32],[62.2,35],[62.6,22],[63,12],[63.2,18],[63.5,8],[63.9,16],[64.3,12],[64.7,21],[65,9],[65.5,8],[66,20],[66.4,16],[66.8,10],[67.1,25],[67.35,120],[67.65,396],[67.9,120],[68.1,25],[68.4,16],[68.7,25],[68.8,35],[69,93],[69.2,70],[69.5,22],[69.8,5],[70,9],[70.4,12],[70.8,6],[71.2,12],[71.6,6],[72,10],[72.4,5],[72.8,12],[73.2,6],[73.6,10],[74,5],[74.4,12],[74.8,21],[75.1,8],[75.5,13],[76,6],[76.5,13],[77,15],[77.5,27],[77.7,40],[78,18],[78.4,15],[78.8,5],[79.2,18],[79.6,8],[80,14],[80.5,22],[81,14],[81.3,24],[81.6,12],[82,9],[82.4,16],[82.8,5],[83.3,12],[83.8,18],[84.3,4],[84.7,15],[85.2,25],[85.5,40],[85.9,15],[86.3,8],[86.7,16],[87.2,6],[87.7,12],[88.2,5],[88.6,12],[89,10],[89.4,16],[90,14]];

const atcCoating = [[20.06,0],[21,0],[22,1],[23,0],[25,1],[26.3,1],[26.68,7],[26.9,1],[28,1],[29.1,3],[30.5,1],[31.08,4],[31.4,1],[31.92,4],[32.3,1],[32.77,5],[33.1,0],[33.95,2],[34.4,4],[35.08,0],[35.53,7],[35.8,1],[36.16,13],[36.43,5],[36.88,4],[37.56,5],[38.24,2],[38.8,6],[39.36,0],[39.93,0],[40.27,6],[40.72,3],[41.28,5],[41.51,0],[41.73,4],[42.41,0],[42.86,4],[43.09,1],[43.43,4],[44.1,1],[44.38,24],[44.6,5],[45.12,1],[45.46,4],[45.8,1],[46.36,4],[46.59,39],[46.86,52],[47.09,25],[47.31,7],[47.49,2],[47.72,5],[47.99,1],[48.28,6],[48.51,1],[49.3,4],[50.43,3],[51.1,5],[51.4,3],[51.83,8],[52.12,3],[52.68,6],[53,5],[53.25,10],[53.54,14],[53.8,7],[54.04,1],[54.38,7],[54.8,9],[55.1,2],[55.5,3],[55.9,1],[56.5,2],[57,3],[57.3,8],[57.6,1],[58,4],[58.2,12],[58.4,39],[58.6,15],[58.9,3],[59.5,2],[60,4],[60.6,6],[61,10],[61.4,5],[61.8,15],[62.1,12],[62.5,8],[62.9,2],[63.3,9],[63.7,2],[64.1,8],[64.5,2],[64.9,9],[65.3,2],[65.8,9],[66.2,3],[66.6,9],[67,8],[67.25,30],[67.6,124],[67.85,30],[68.05,12],[68.3,6],[68.6,3],[69,27],[69.2,8],[69.5,3],[69.9,8],[70.3,3],[70.7,8],[71.1,3],[71.6,7],[72,4],[72.5,2],[73,5],[73.5,2],[74,6],[74.5,3],[75,7],[75.5,3],[76,8],[76.4,2],[76.8,9],[77.2,3],[77.6,15],[77.9,7],[78.4,9],[78.9,3],[79.4,6],[79.9,7],[80.3,12],[80.7,2],[81.2,6],[81.6,11],[82,2],[82.5,8],[83,3],[83.5,5],[84,2],[84.5,5],[85,8],[85.2,20],[85.5,10],[85.9,2],[86.4,3],[86.8,13],[87.2,2],[87.7,7],[88.2,2],[88.7,4],[89.2,2],[89.55,13],[89.9,3]];

/* phase markers: [phase, 2-theta, level above baseline] */
const atc6yAfterMarkers = [['alpha',25.2,84],['tio2',27.3,79],['alpha',28.36,81],['ceo2',28.46,94],['zro2',29.8,38],['tio2',31.2,36],['ceo2',32.57,92],['gamma',32.67,78],['alpha',35.04,107],['zro2',35.04,126],['gamma',36.48,62],['gamma',37.66,94],['tio2',38.9,46],['alpha',43.2,167],['gamma',45.2,39],['ceo2',47.5,82],['zro2',49.8,29],['alpha',52.37,125],['tio2',53.8,58],['ceo2',56,67],['alpha',57.46,208],['zro2',59.92,64],['tio2',61.05,39],['tio2',62.55,44],['alpha',66.46,152],['alpha',67.12,154],['gamma',67.07,170],['ceo2',76.58,66],['alpha',76.68,54],['ceo2',77.97,46],['zro2',82.1,34],['zro2',85,41],['ceo2',88.6,30]];
const atc6yBeforeMarkers = [['ceo2',28.3,62],['tio2',31.75,40],['ceo2',32.67,51],['gamma',32.6,36],['zro2',34.78,36],['gamma',36.38,36],['gamma',37.6,26],['gamma',45.27,75],['ceo2',47.27,47],['tio2',54.16,36],['ceo2',56.17,40],['zro2',59.67,40],['gamma',67.12,104],['ceo2',76.32,56],['ceo2',77.92,40],['zro2',82.3,27],['zro2',84.55,31],['ceo2',88.5,26]];
const atcAfterMarkers = [['alpha',25.37,83],['tio2',27.38,54],['alpha',28.4,80],['ceo2',28.4,94],['tio2',31.9,42],['ceo2',32.67,74],['gamma',32.72,59],['alpha',35.04,136],['gamma',36.43,64],['gamma',37.77,59],['tio2',38.8,48],['alpha',43.32,128],['gamma',45.37,57],['ceo2',47.37,58],['alpha',52.37,66],['tio2',53.7,31],['ceo2',56.17,70],['alpha',57.35,135],['tio2',61.3,20],['tio2',62.7,24],['alpha',66.56,103],['alpha',67.12,120],['gamma',66.97,130],['ceo2',76.63,84],['alpha',76.68,64],['ceo2',77.92,43],['ceo2',88.3,51]];
const atcBeforeMarkers = [['ceo2',28.2,72],['tio2',28.3,54],['tio2',31.8,22],['ceo2',32.93,54],['gamma',32.88,40],['gamma',36.22,23],['gamma',37.35,23],['tio2',39.6,29],['gamma',45.57,51],['ceo2',47.57,52],['tio2',53.5,24],['ceo2',56.27,41],['tio2',60.85,30],['tio2',62.6,33],['gamma',66.86,105],['ceo2',76.63,40],['ceo2',77.86,28],['ceo2',88.79,31]];
const atc6yCoatingMarkers = [['tall',26.7,56],['zro2',29.18,29],['zro2',33,40],['tall',36.18,108],['tall',38.86,94],['alpha',40.55,58],['tall',44.42,120],['alpha',46.85,318],['zro2',49.88,26],['tall',53.55,67],['tall',58.36,118],['zro2',59.95,46],['alpha',62.23,50],['tall',67.74,423],['alpha',67.64,407],['zro2',81.2,37],['zro2',83.82,29],['alpha',85.56,51]];
const atcCoatingMarkers = [['tall',26.6,24],['tall',36.28,26],['tall',38.86,19],['alpha',40.55,23],['tall',44.37,38],['alpha',46.85,69],['tall',53.45,30],['tall',58.46,54],['alpha',61.84,28],['tall',67.54,161],['alpha',67.54,139],['alpha',85.26,34]];

/* ===== axis functions ===== */
function xA(t){ return 81 + (t - 20) * 955 / 70; }
function xB(t){ return 1117.4 + (t - 20) * 1033.6 / 70; }
function yLevel(baseline, v){ return baseline - v; }

const SVGNS = 'http://www.w3.org/2000/svg';
function mk(tag, parent){
  const el = document.createElementNS(SVGNS, tag);
  parent.appendChild(el);
  return el;
}

function drawTrace(parent, data, xFn, baseline, color, width, name){
  const p = mk('path', parent);
  p.setAttribute('d', data.map(function(d, i){
    return (i ? 'L' : 'M') + xFn(d[0]).toFixed(1) + ' ' + yLevel(baseline, d[1]).toFixed(1);
  }).join(''));
  p.setAttribute('fill', 'none');
  p.setAttribute('stroke', color);
  p.setAttribute('stroke-width', width);
  p.setAttribute('stroke-linejoin', 'round');
  
  
}

function drawMarker(parent, kind, cx, cy, s){
  let el;
  if (kind === 'alpha'){
    el = mk('circle', parent);
    el.setAttribute('cx', cx); el.setAttribute('cy', cy); el.setAttribute('r', 6 * s);
  } else if (kind === 'gamma'){
    el = mk('rect', parent);
    el.setAttribute('x', cx - 5 * s); el.setAttribute('y', cy - 5 * s);
    el.setAttribute('width', 10 * s); el.setAttribute('height', 10 * s);
  } else if (kind === 'tio2'){
    el = mk('polygon', parent);
    el.setAttribute('points', [cx, cy - 7 * s, cx + 7 * s, cy, cx, cy + 7 * s, cx - 7 * s, cy].join(','));
  } else if (kind === 'tall'){
    el = mk('polygon', parent);
    el.setAttribute('points', [cx, cy - 10, cx + 8, cy, cx, cy + 10, cx - 8, cy].join(','));
  } else if (kind === 'ceo2'){
    el = mk('polygon', parent);
    el.setAttribute('points', [cx - 6.5, cy - 5.5, cx + 6.5, cy - 5.5, cx, cy + 6].join(','));
  } else {
    el = mk('text', parent);
    el.textContent = '\u2663';
    const fs = s > 1 ? 29 : 23;
    el.setAttribute('x', cx);
    el.setAttribute('y', cy + fs * 0.36);
    el.setAttribute('font-size', fs);
    el.setAttribute('text-anchor', 'middle');
    el.style.fontFamily = '"DejaVu Sans", sans-serif';
  }
  el.setAttribute('fill', '#000');
  
  
}

function drawMarkers(parent, list, xFn, baseline, s){
  list.forEach(function(m){
    drawMarker(parent, m[0], xFn(m[1]), yLevel(baseline, m[2]), s);
  });
}

function drawTicks(parent, xFn, axisY, labelY, fs, prefix){
  xTickLabels.forEach(function(v){
    const t = mk('line', parent);
    t.setAttribute('x1', xFn(v)); t.setAttribute('x2', xFn(v));
    t.setAttribute('y1', axisY); t.setAttribute('y2', axisY - 14);
    t.setAttribute('stroke', '#111'); t.setAttribute('stroke-width', 2);
    
    
    const l = mk('text', parent);
    l.textContent = v;
    l.setAttribute('x', xFn(v)); l.setAttribute('y', labelY);
    l.setAttribute('font-size', fs); l.setAttribute('text-anchor', 'middle');
    
    
  });
  xMinorTicks.forEach(function(v){
    const t = mk('line', parent);
    t.setAttribute('x1', xFn(v)); t.setAttribute('x2', xFn(v));
    t.setAttribute('y1', axisY); t.setAttribute('y2', axisY - 8);
    t.setAttribute('stroke', '#111'); t.setAttribute('stroke-width', 2);
    
    
  });
}

const gA = document.getElementById('gA');
const gB = document.getElementById('gB');

drawTrace(gA, atc6yAfter, xA, 262, '#0000ff', 2, 'series-atc-6y-after-sintering');
drawTrace(gA, atc6yBefore, xA, 387, '#00f000', 2, 'series-atc-6y-before-sintering');
drawTrace(gA, atcAfter, xA, 592, '#ff0000', 2, 'series-atc-after-sintering');
drawTrace(gA, atcBefore, xA, 720, '#111111', 2, 'series-atc-before-sintering');
drawMarkers(gA, atc6yAfterMarkers, xA, 262, 1);
drawMarkers(gA, atc6yBeforeMarkers, xA, 387, 1);
drawMarkers(gA, atcAfterMarkers, xA, 592, 1);
drawMarkers(gA, atcBeforeMarkers, xA, 720, 1);
drawTicks(gA, xA, 789, 835, 34, 'panel-a-x-axis');

drawTrace(gB, atc6yCoating, xB, 468, '#f0146e', 2, 'series-atc-6y-coating');
drawTrace(gB, atcCoating, xB, 735, '#8a64a8', 2, 'series-atc-coating');
drawMarkers(gB, atc6yCoatingMarkers, xB, 468, 1.15);
drawMarkers(gB, atcCoatingMarkers, xB, 735, 1.15);
drawTicks(gB, xB, 790, 833, 30, 'panel-b-x-axis');
</script>
</svg>
</body>
</html>
